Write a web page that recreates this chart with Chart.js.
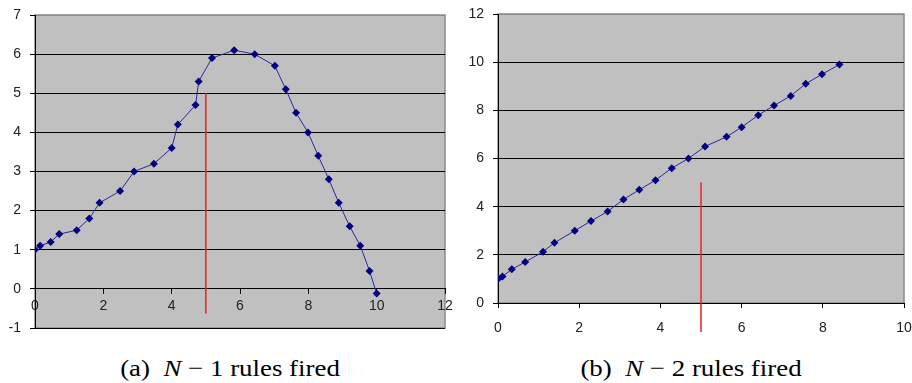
<!DOCTYPE html>
<html>
<head>
<meta charset="utf-8">
<script src="https://cdn.jsdelivr.net/npm/chart.js@4/dist/chart.umd.min.js"></script>
<style>
  html, body { margin: 0; padding: 0; background: #fff; }
  body { width: 912px; height: 383px; position: relative; overflow: hidden; }
  .box { position: absolute; top: 0; height: 340px; }
  .cap {
    position: absolute; top: 356px; width: 400px; text-align: center;
    font-family: "Liberation Serif", "Times New Roman", Times, serif; font-size: 24px;
    line-height: 24px; color: #000; white-space: nowrap;
    transform: scaleX(1.12); transform-origin: 50% 50%;
  }
  .cap i { font-style: italic; }
</style>
</head>
<body>
<div class="box" style="left:0;width:455px"><canvas id="chartA"></canvas></div>
<div class="box" style="left:460px;width:452px"><canvas id="chartB"></canvas></div>
<div class="cap" style="left:30px">(a)&nbsp; <i>N</i> &minus; 1 rules fired</div>
<div class="cap" style="left:491px">(b)&nbsp; <i>N</i> &minus; 2 rules fired</div>
<script>
// (a) N-1 rules fired
const firedA_x = [0, 0.15, 0.46, 0.71, 1.22, 1.59, 1.89, 2.49, 2.9, 3.48, 4.0, 4.18, 4.7, 4.79, 5.18,
                  5.83, 6.43, 7.02, 7.34, 7.64, 7.99, 8.29, 8.6, 8.89, 9.21, 9.52, 9.79, 10.0];
const firedA_y = [1.0, 1.1, 1.2, 1.4, 1.5, 1.8, 2.2, 2.5, 3.0, 3.2, 3.6, 4.2, 4.7, 5.3, 5.9,
                  6.1, 6.0, 5.7, 5.1, 4.5, 4.0, 3.4, 2.8, 2.2, 1.6, 1.1, 0.46, -0.12];
const markerA_x = [5, 5];
const markerA_y = [5, -0.63];

// (b) N-2 rules fired
const firedB_x = [0, 0.11, 0.34, 0.67, 1.11, 1.39, 1.89, 2.29, 2.7, 3.09, 3.48, 3.88, 4.28, 4.69,
                  5.1, 5.63, 6.0, 6.41, 6.8, 7.21, 7.58, 7.98, 8.41];
const firedB_y = [1.0, 1.1, 1.4, 1.7, 2.13, 2.5, 3.0, 3.4, 3.8, 4.3, 4.7, 5.1, 5.6, 6.0,
                  6.5, 6.9, 7.3, 7.8, 8.2, 8.6, 9.1, 9.5, 9.9];
const markerB_x = [5, 5];
const markerB_y = [5, -1.2];

const ticksA_x = { min: 0, max: 12, step: 2 };
const ticksA_y = { min: -1, max: 7, step: 1 };
const ticksB_x = { min: 0, max: 10, step: 2 };
const ticksB_y = { min: 0, max: 12, step: 2 };

const pts = (xs, ys) => xs.map((x, i) => ({ x, y: ys[i] }));

const TICK_FONT = { family: '"Liberation Sans", Arial, Helvetica, sans-serif', size: 14 };
const TICK_COLOR = '#222';

// grey plot area with a thin frame, as in a spreadsheet chart
const plotFrame = {
  id: 'plotFrame',
  beforeDraw(chart) {
    const { ctx, chartArea: a } = chart;
    ctx.save();
    ctx.fillStyle = '#c0c0c0';
    ctx.fillRect(a.left, a.top, a.right - a.left, a.bottom - a.top);
    ctx.strokeStyle = '#8a8a8a';
    ctx.lineWidth = 1.5;
    ctx.strokeRect(a.left, a.top, a.right - a.left, a.bottom - a.top);
    ctx.restore();
  }
};

function seriesSet(xs, ys) {
  return {
    data: pts(xs, ys),
    showLine: true,
    borderColor: '#2a2a9a',
    borderWidth: 1,
    pointStyle: 'rectRot',
    pointRadius: 4,
    pointBackgroundColor: '#000080',
    pointBorderColor: '#000080',
    pointBorderWidth: 0,
    order: 1
  };
}

function markerSet(xs, ys) {
  return {
    data: pts(xs, ys),
    showLine: true,
    borderColor: '#ee2222',
    borderWidth: 1.5,
    pointRadius: 0,
    clip: false,
    order: 2
  };
}

function makeChart(id, cfg) {
  return new Chart(document.getElementById(id), {
    type: 'scatter',
    data: { datasets: [seriesSet(cfg.xs, cfg.ys), markerSet(cfg.mx, cfg.my)] },
    options: {
      responsive: true,
      maintainAspectRatio: false,
      animation: false,
      events: [],
      layout: { padding: cfg.padding },
      plugins: { legend: { display: false }, tooltip: { enabled: false } },
      scales: {
        x: {
          type: 'linear',
          position: cfg.xPosition,
          min: cfg.tx.min, max: cfg.tx.max,
          afterBuildTicks: s => {
            s.ticks = [];
            for (let v = cfg.tx.min; v <= cfg.tx.max; v += cfg.tx.step) s.ticks.push({ value: v });
          },
          afterFit: s => {
            if (cfg.xHeight) s.height = cfg.xHeight;
            s.paddingLeft = 0; s.paddingRight = 0;
          },
          grid: { drawOnChartArea: false, drawTicks: true, tickLength: 5, tickColor: '#000' },
          border: { display: true, color: '#000', width: 1 },
          ticks: { font: TICK_FONT, color: TICK_COLOR, padding: cfg.xPad, maxRotation: 0 }
        },
        y: {
          type: 'linear',
          min: cfg.ty.min, max: cfg.ty.max,
          afterBuildTicks: s => {
            s.ticks = [];
            for (let v = cfg.ty.min; v <= cfg.ty.max; v += cfg.ty.step) s.ticks.push({ value: v });
          },
          afterFit: s => {
            s.width = cfg.yWidth;
            s.paddingTop = 0; s.paddingBottom = 0;
          },
          grid: {
            color: c => (c.tick && c.tick.value === cfg.ty.max) ? '#8a8a8a' : '#000',
            lineWidth: 1,
            drawTicks: true, tickLength: 5, tickColor: '#000'
          },
          border: { display: true, color: '#000', width: 1 },
          ticks: { font: TICK_FONT, color: TICK_COLOR, padding: 9 }
        }
      }
    },
    plugins: [plotFrame]
  });
}

makeChart('chartA', {
  xs: firedA_x, ys: firedA_y, mx: markerA_x, my: markerA_y,
  tx: ticksA_x, ty: ticksA_y,
  xPosition: { y: 0 }, xPad: 4, yWidth: 35,
  padding: { top: 15, right: 10, bottom: 12, left: 0 }
});

makeChart('chartB', {
  xs: firedB_x, ys: firedB_y, mx: markerB_x, my: markerB_y,
  tx: ticksB_x, ty: ticksB_y,
  xPosition: 'bottom', xPad: 12, yWidth: 38, xHeight: 37,
  padding: { top: 14, right: 8, bottom: 0, left: 0 }
});
</script>
</body>
</html>
